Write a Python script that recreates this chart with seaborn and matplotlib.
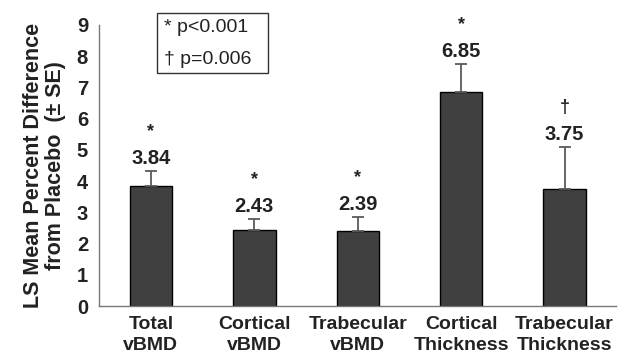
import numpy as np
import pandas as pd
import matplotlib
matplotlib.use('Agg')
import matplotlib.pyplot as plt
from matplotlib.patches import Rectangle
import seaborn as sb

categories = ['Total\nvBMD', 'Cortical\nvBMD', 'Trabecular\nvBMD', 'Cortical\nThickness', 'Trabecular\nThickness']
means = [3.84, 2.43, 2.39, 6.85, 3.75]
se = [0.49, 0.36, 0.47, 0.91, 1.35]
marks = ['*', '*', '*', '*', '\u2020']

sb.set_style('white')
plt.rcParams['font.family'] = ['Liberation Sans', 'DejaVu Sans']

df = pd.DataFrame({'cat': categories, 'mean': means, 'se': se})

fig = plt.figure(figsize=(6.32, 3.61), dpi=100)
ax = fig.add_axes([0.157, 0.152, 0.818, 0.779])

sb.barplot(data=df, x='cat', y='mean', color='#404040', edgecolor='black',
           linewidth=1, width=0.41, errorbar=None, ax=ax, saturation=1)
xs = np.arange(len(categories))
ax.errorbar(xs, means, yerr=[np.zeros(len(se)), se], fmt='none',
            ecolor='#5a5a5a', elinewidth=1.3, capsize=4, capthick=1.3)

for x, m, s, k in zip(xs, means, se, marks):
    ax.annotate(f'{m:.2f}', (x, m + s), xytext=(0, 2), textcoords='offset points',
                ha='center', va='bottom', fontsize=14.5, fontweight='bold', color='#222222')
    ax.annotate(k, (x, m + s), xytext=(0, 22), textcoords='offset points',
                ha='center', va='bottom', fontsize=13, fontweight='bold', color='#222222')

ax.set_xlim(-0.5, len(categories) - 0.5)
ax.set_ylim(0, 9)
ax.set_yticks(range(10))
ax.set_xlabel('')
ax.set_ylabel('LS Mean Percent Difference\nfrom Placebo  (\u00b1 SE)', fontsize=15.5,
              fontweight='bold', color='#222222', labelpad=8, linespacing=1.05)
ax.set_xticks(xs)
ax.set_xticklabels(categories, fontsize=14, fontweight='bold', color='#222222', linespacing=1.3)
ax.tick_params(axis='x', length=0, pad=7)
ax.set_xticks(np.arange(-0.5, len(categories)), minor=True)
ax.tick_params(axis='x', which='minor', direction='inout', length=6, color='#777777')
ax.tick_params(axis='y', direction='out', length=5, color='#777777', labelsize=14.5,
               labelcolor='#222222', pad=3)
for lab in ax.get_yticklabels():
    lab.set_fontweight('bold')

sb.despine(ax=ax)
for side in ['left', 'bottom']:
    ax.spines[side].set_color('#777777')
    ax.spines[side].set_linewidth(1)

# significance key
fig.patches.append(Rectangle((157 / 632, 1 - 73 / 361), 111 / 632, 60 / 361,
                             transform=fig.transFigure, fill=False,
                             edgecolor='#333333', linewidth=1))
fig.text(164 / 632, 1 - 27 / 361, '* p<0.001', fontsize=14, va='center', color='#222222')
fig.text(164 / 632, 1 - 60 / 361, '\u2020 p=0.006', fontsize=14, va='center', color='#222222')

fig.savefig('out.png', dpi=100)
